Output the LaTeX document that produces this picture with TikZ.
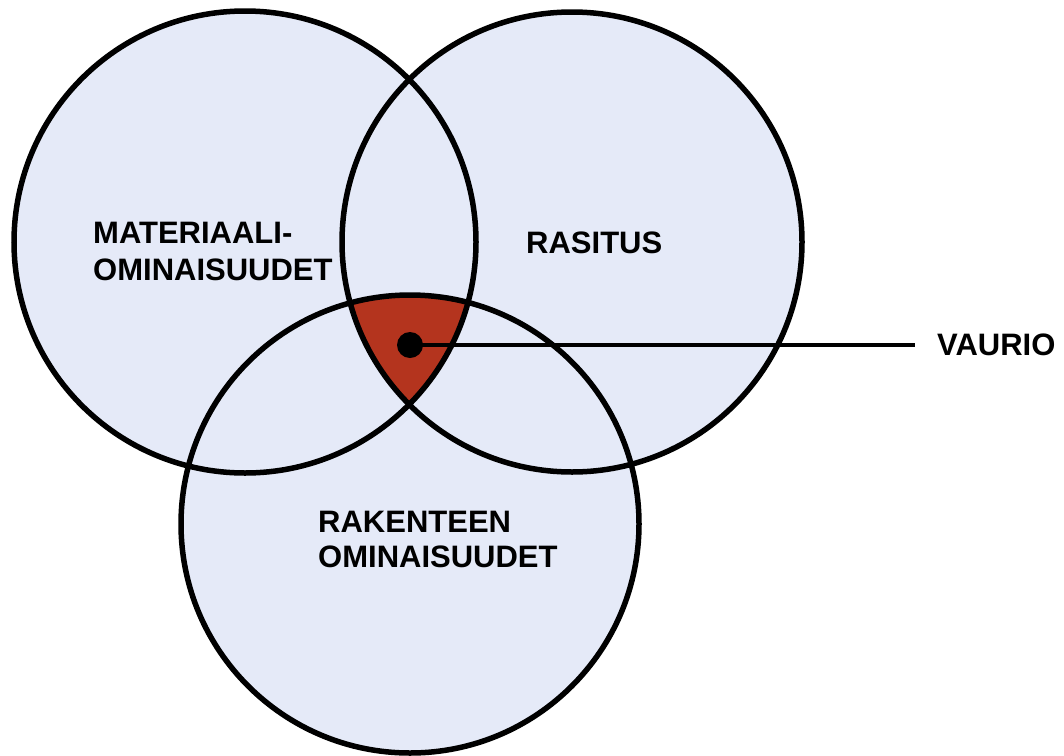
\documentclass[tikz,border=0pt]{standalone}
\usepackage{fontspec}
\setmainfont{Liberation Sans}
\definecolor{vennblue}{RGB}{229,234,248}
\definecolor{vaured}{RGB}{180,52,30}
\begin{document}
\begin{tikzpicture}[x=1pt,y=-1pt,
  ring/.style={line width=5.5pt,draw=black},
  lbl/.style={anchor=west,inner sep=0pt,font=\fontsize{31}{37}\selectfont\bfseries}]
\useasboundingbox (0,0) rectangle (1064,755);
\coordinate (ca) at (245,242);
\coordinate (cb) at (572,242);
\coordinate (cc) at (410,524);
% fills
\fill[vennblue] (ca) circle[radius=231];
\fill[vennblue] (cb) circle[radius=230];
\fill[vennblue] (cc) circle[radius=229];
% intersection
\begin{scope}
  \clip (ca) circle[radius=231];
  \clip (cb) circle[radius=230];
  \fill[vaured] (cc) circle[radius=229];
\end{scope}
% outlines
\draw[ring] (ca) circle[radius=231];
\draw[ring] (cb) circle[radius=230];
\draw[ring] (cc) circle[radius=229];
% labels
\node[lbl] (m1) at (93,232.5) {MATERIAALI-};
\node[lbl] (m2) at (93,270) {OMINAISUUDET};
\node[lbl] (r) at (526,243) {RASITUS};
\node[lbl] (k1) at (318,522) {RAKENTEEN};
\node[lbl] (k2) at (318,557) {OMINAISUUDET};
\node[lbl] (v) at (937,345) {VAURIO};
% pointer
\node[circle,fill=black,inner sep=0pt,minimum size=26pt] (dot) at (410,345) {};
\coordinate (vend) at (915,345);
\draw[line width=3.5pt] (dot.center) -- (vend);
\end{tikzpicture}
\end{document}
